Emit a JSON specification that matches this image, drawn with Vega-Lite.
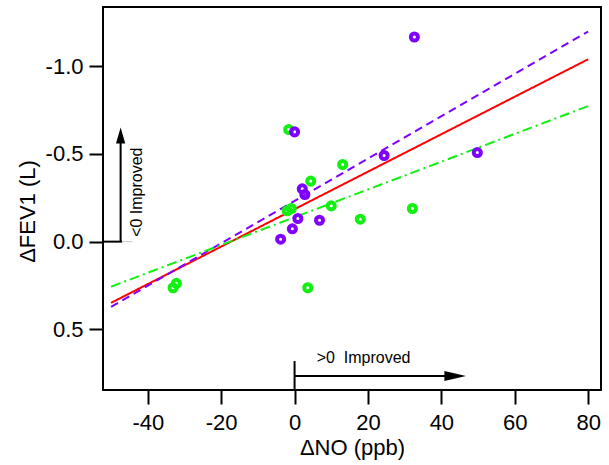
{
  "$schema": "https://vega.github.io/schema/vega-lite/v6.json",
  "autosize": {"type": "none"},
  "padding": {"left": 103, "top": 7, "right": 8, "bottom": 75},
  "width": 498,
  "height": 383,
  "background": "white",
  "config": {
    "view": {"stroke": "black", "strokeWidth": 2},
    "axis": {
      "domain": false,
      "grid": false,
      "tickSize": 14,
      "tickWidth": 2,
      "tickColor": "black",
      "labelColor": "black",
      "labelFont": "Liberation Sans",
      "labelFontSize": 22,
      "titleFont": "Liberation Sans",
      "titleFontSize": 22,
      "titleFontWeight": "normal",
      "titleColor": "black",
      "labelFlush": false
    },
    "text": {"font": "Liberation Sans"}
  },
  "datasets": {
    "points": [
      {"no": -1.6, "fev": -0.639, "series": "G"},
      {"no": 13.1, "fev": -0.44, "series": "G"},
      {"no": 4.4, "fev": -0.345, "series": "G"},
      {"no": 10.0, "fev": -0.204, "series": "G"},
      {"no": -2.0, "fev": -0.176, "series": "G"},
      {"no": -0.9, "fev": -0.189, "series": "G"},
      {"no": 17.9, "fev": -0.128, "series": "G"},
      {"no": 32.1, "fev": -0.189, "series": "G"},
      {"no": 3.6, "fev": 0.263, "series": "G"},
      {"no": -33.1, "fev": 0.263, "series": "G"},
      {"no": -32.2, "fev": 0.238, "series": "G"},
      {"no": 32.65, "fev": -1.167, "series": "P"},
      {"no": 0.0, "fev": -0.626, "series": "P"},
      {"no": 24.4, "fev": -0.491, "series": "P"},
      {"no": 49.8, "fev": -0.508, "series": "P"},
      {"no": 2.1, "fev": -0.301, "series": "P"},
      {"no": 2.8, "fev": -0.269, "series": "P"},
      {"no": 0.9, "fev": -0.132, "series": "P"},
      {"no": 6.8, "fev": -0.122, "series": "P"},
      {"no": -0.6, "fev": -0.073, "series": "P"},
      {"no": -3.8, "fev": -0.014, "series": "P"}
    ],
    "fits": [
      {"no": -50, "fev": 0.349, "series": "R"},
      {"no": 80, "fev": -1.04, "series": "R"},
      {"no": -50, "fev": 0.372, "series": "P"},
      {"no": 80, "fev": -1.198, "series": "P"},
      {"no": -50, "fev": 0.257, "series": "G"},
      {"no": 80, "fev": -0.773, "series": "G"}
    ]
  },
  "encoding": {
    "x": {
      "field": "no", "type": "quantitative",
      "scale": {"domain": [-52.2, 83.5], "nice": false, "zero": false},
      "axis": {
        "title": "ΔNO (ppb)",
        "values": [-40, -20, 0, 20, 40, 60, 80],
        "labelPadding": 8,
        "titlePadding": 4,
        "labelExpr": "replace(datum.label, '\u2212', '-')"
      }
    },
    "y": {
      "field": "fev", "type": "quantitative",
      "scale": {"domain": [-1.338, 0.846], "nice": false, "zero": false, "reverse": true},
      "axis": {
        "title": "ΔFEV1 (L)",
        "values": [-1.0, -0.5, 0.0, 0.5],
        "format": ".1f",
        "labelPadding": 6,
        "titlePadding": 6,
        "titleY": 204,
        "labelExpr": "replace(datum.label, '\u2212', '-')"
      }
    }
  },
  "layer": [
    {
      "data": {"name": "fits"},
      "mark": {"type": "line", "strokeWidth": 2},
      "encoding": {
        "detail": {"field": "series"},
        "color": {"field": "series", "type": "nominal", "scale": {"domain": ["R", "P", "G"], "range": ["#ff0000", "#7f00ff", "#11f011"]}, "legend": null},
        "strokeDash": {"field": "series", "type": "nominal", "scale": {"domain": ["R", "P", "G"], "range": [[1, 0], [8, 5], [10, 4, 2, 4]]}, "legend": null}
      }
    },
    {
      "data": {"name": "points"},
      "mark": {"type": "point", "filled": false, "strokeWidth": 4, "size": 50, "opacity": 1},
      "encoding": {
        "color": {"field": "series", "type": "nominal", "legend": null}
      }
    },
    {
      "data": {"values": [
        {"no": -47.0, "fev": 0, "no2": -52.2, "fev2": 0},
        {"no": -47.4, "fev": 0, "no2": -47.4, "fev2": -0.62},
        {"no": 0, "fev": 0.681, "no2": 0, "fev2": 0.846},
        {"no": 0, "fev": 0.766, "no2": 44, "fev2": 0.766}
      ]},
      "mark": {"type": "rule", "strokeWidth": 2, "color": "black"},
      "encoding": {
        "x2": {"field": "no2"},
        "y2": {"field": "fev2"}
      }
    },
    {
      "data": {"values": [
        {"no": -47.0, "fev": 0, "no2": -44.1, "fev2": 0}
      ]},
      "mark": {"type": "rule", "strokeWidth": 1, "color": "#c8c8c8"},
      "encoding": {
        "x2": {"field": "no2"},
        "y2": {"field": "fev2"}
      }
    },
    {
      "data": {"values": [{"no": -47.4, "fev": -0.651}]},
      "mark": {"type": "point", "shape": "M0,0L-0.58,2L0.58,2Z", "size": 256, "filled": true, "color": "black", "opacity": 1, "strokeWidth": 0}
    },
    {
      "data": {"values": [{"no": 46.7, "fev": 0.766}]},
      "mark": {"type": "point", "shape": "M0,0L-2.7,-0.62L-2.7,0.62Z", "size": 256, "filled": true, "color": "black", "opacity": 1, "strokeWidth": 0}
    },
    {
      "data": {"values": [{"no": -41.7, "fev": -0.282, "label": "<0 Improved"}]},
      "mark": {"type": "text", "angle": 270, "align": "center", "baseline": "alphabetic", "fontSize": 16, "color": "black"},
      "encoding": {"text": {"field": "label"}}
    },
    {
      "data": {"values": [{"no": 18.8, "fev": 0.694, "label": ">0 \u00a0Improved"}]},
      "mark": {"type": "text", "align": "center", "baseline": "alphabetic", "fontSize": 16, "color": "black"},
      "encoding": {"text": {"field": "label"}}
    }
  ]
}
